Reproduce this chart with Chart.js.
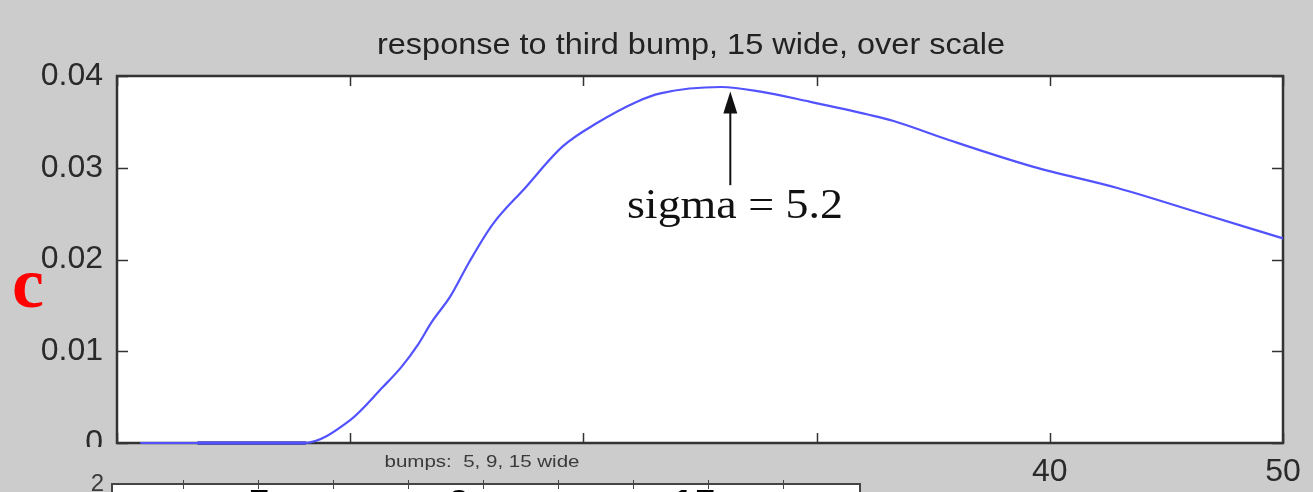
<!DOCTYPE html>
<html>
<head>
<meta charset="utf-8">
<title>response to third bump, 15 wide, over scale</title>
<script src="https://cdn.jsdelivr.net/npm/chart.js@4.4.1/dist/chart.umd.min.js"></script>
<style>
  html, body { margin: 0; padding: 0; background: #cccccc; }
  #wrap { width: 1313px; height: 492px; }
</style>
</head>
<body>
<div id="wrap"><canvas id="chart" width="1313" height="492"></canvas></div>
<script>
// Scale positions (x) and filter response (y) of the third bump
const scalePos = [1, 8, 10, 11.4, 12.2, 12.9, 13.5, 14.3, 15.1, 16.1, 17.5, 19.1, 20.6, 22.3, 23.3, 25.9, 27.6, 29.7, 32.2, 33.3, 35.7, 39.3, 42.9, 46.4, 50];
const response = [0, 0, 0.0025, 0.0061, 0.0083, 0.0107, 0.0132, 0.016, 0.0197, 0.0238, 0.0278, 0.0323, 0.0349, 0.0372, 0.0381, 0.0388, 0.0383, 0.0372, 0.0358, 0.0351, 0.033, 0.0301, 0.0278, 0.0251, 0.0223];

// Overlapping zero run drawn in the darker blue
const zeroRunPos = [3.45, 8.1];
const zeroRunVal = [0, 0];

// Axis ticks
const xTicks = [0, 10, 20, 30, 40, 50];
const yTicks = [0, 0.01, 0.02, 0.03, 0.04];

// Peak annotation
const peakLabel = 'sigma = 5.2';
const peakAt = { x: 26.3, from: 0.0281, to: 0.0383 };

const titleText = 'response to third bump, 15 wide, over scale';
const panelTitle = 'bumps:  5, 9, 15 wide';
const bumpLabels = ['5', '9', '15'];

const toPoints = (xs, ys) => xs.map((x, i) => ({ x, y: ys[i] }));

// draw text stretched horizontally to a given width
function wideText(ctx, text, cx, baseline, width) {
  const w = ctx.measureText(text).width;
  ctx.save();
  ctx.translate(cx - width / 2, baseline);
  ctx.scale(width / w, 1);
  ctx.textAlign = 'left';
  ctx.textBaseline = 'alphabetic';
  ctx.fillText(text, 0, 0);
  ctx.restore();
}

const frame = {
  id: 'frame',
  beforeDraw(chart) {
    const { ctx, chartArea: a } = chart;
    ctx.save();
    ctx.fillStyle = '#cccccc';
    ctx.fillRect(0, 0, chart.width, chart.height);
    ctx.fillStyle = '#ffffff';
    ctx.fillRect(a.left, a.top, a.right - a.left, a.bottom - a.top);
    // title over the axes box
    ctx.fillStyle = '#222222';
    ctx.font = '30px "Liberation Sans", Arial, sans-serif';
    wideText(ctx, titleText, 691, 54, 628);
    ctx.restore();
  },
  beforeDatasetsDraw(chart) {
    const { ctx, chartArea: a, scales } = chart;
    ctx.save();
    ctx.strokeStyle = '#333333';
    ctx.lineWidth = 1.5;
    // inward ticks on all four sides
    ctx.beginPath();
    xTicks.forEach(v => {
      const px = Math.round(scales.x.getPixelForValue(v)) + 0.5;
      ctx.moveTo(px, a.bottom); ctx.lineTo(px, a.bottom - 10);
      ctx.moveTo(px, a.top); ctx.lineTo(px, a.top + 10);
    });
    yTicks.forEach(v => {
      const py = Math.round(scales.y.getPixelForValue(v)) + 0.5;
      ctx.moveTo(a.left, py); ctx.lineTo(a.left + 11, py);
      ctx.moveTo(a.right, py); ctx.lineTo(a.right - 11, py);
    });
    ctx.stroke();
    ctx.lineWidth = 2.5;
    ctx.strokeRect(a.left, a.top, a.right - a.left, a.bottom - a.top);
    ctx.restore();
  },
  afterDraw(chart) {
    const { ctx, scales } = chart;
    ctx.save();

    // arrow pointing at the peak
    const ax = scales.x.getPixelForValue(peakAt.x);
    const y0 = scales.y.getPixelForValue(peakAt.from);
    const y1 = scales.y.getPixelForValue(peakAt.to);
    ctx.strokeStyle = '#111111';
    ctx.fillStyle = '#111111';
    ctx.lineWidth = 2;
    ctx.beginPath();
    ctx.moveTo(ax, y0); ctx.lineTo(ax, y1 + 14);
    ctx.stroke();
    ctx.beginPath();
    ctx.moveTo(ax, y1);
    ctx.lineTo(ax - 7, y1 + 22);
    ctx.lineTo(ax + 7, y1 + 22);
    ctx.closePath();
    ctx.fill();

    // annotation text
    ctx.font = '42px "Liberation Serif", "Times New Roman", serif';
    wideText(ctx, peakLabel, 735, y0 + 33, 216);

    // red variable name at the left
    ctx.fillStyle = '#ff0000';
    ctx.font = 'bold 72px "Liberation Serif", "Times New Roman", serif';
    ctx.textAlign = 'left';
    ctx.textBaseline = 'alphabetic';
    ctx.fillText('c', 12, 307);

    // neighbouring panel overlapping the bottom edge
    ctx.fillStyle = '#cccccc';
    ctx.fillRect(0, 447, 862, 45);
    ctx.fillStyle = '#3a3a3a';
    ctx.font = '16px "Liberation Sans", Arial, sans-serif';
    wideText(ctx, panelTitle, 482, 467, 195);

    ctx.font = '24px "Liberation Sans", Arial, sans-serif';
    ctx.textAlign = 'right';
    ctx.textBaseline = 'alphabetic';
    ctx.fillText('2', 104, 491);

    ctx.fillStyle = '#ffffff';
    ctx.fillRect(112, 484, 748, 10);
    ctx.strokeStyle = '#444444';
    ctx.lineWidth = 2;
    ctx.beginPath();
    ctx.moveTo(112, 495); ctx.lineTo(112, 484); ctx.lineTo(860, 484); ctx.lineTo(860, 495);
    ctx.stroke();
    ctx.lineWidth = 1;
    ctx.beginPath();
    [183, 258, 333, 408, 483, 558, 633, 708, 783].forEach(px => {
      ctx.moveTo(px + 0.5, 480); ctx.lineTo(px + 0.5, 489);
    });
    ctx.stroke();

    ctx.fillStyle = '#000000';
    ctx.font = 'bold 40px "Liberation Sans", Arial, sans-serif';
    ctx.textAlign = 'center';
    ctx.textBaseline = 'top';
    [[bumpLabels[0], 259], [bumpLabels[1], 459], [bumpLabels[2], 694]].forEach(([t, px]) => {
      ctx.fillText(t, px, 487);
    });
    ctx.restore();
  }
};

new Chart(document.getElementById('chart'), {
  type: 'line',
  data: {
    datasets: [
      {
        data: toPoints(scalePos, response),
        borderColor: 'rgb(82, 82, 255)',
        borderWidth: 2.2,
        pointRadius: 0,
        cubicInterpolationMode: 'monotone',
        clip: 6
      },
      {
        data: toPoints(zeroRunPos, zeroRunVal),
        borderColor: '#0000b8',
        borderWidth: 3,
        pointRadius: 0,
        clip: 6
      }
    ]
  },
  options: {
    responsive: false,
    animation: false,
    devicePixelRatio: 1,
    layout: { padding: { left: 0, right: 30, top: 76, bottom: 0 } },
    plugins: {
      legend: { display: false },
      tooltip: { enabled: false },
      title: { display: false }
    },
    scales: {
      x: {
        type: 'linear',
        min: 0, max: 50,
        afterBuildTicks: s => { s.ticks = xTicks.map(v => ({ value: v })); },
        afterFit: s => { s.height = 49; },
        grid: { display: false, drawTicks: false },
        border: { display: false },
        ticks: {
          color: '#2a2a2a',
          padding: 10,
          maxRotation: 0,
          font: { family: '"Liberation Sans", Arial, sans-serif', size: 32 }
        }
      },
      y: {
        type: 'linear',
        min: 0, max: 0.04,
        afterBuildTicks: s => { s.ticks = yTicks.map(v => ({ value: v })); },
        afterFit: s => { s.width = 117; },
        grid: { display: false, drawTicks: false },
        border: { display: false },
        ticks: {
          color: '#2a2a2a',
          padding: 14,
          callback: v => String(+v.toFixed(2)),
          font: { family: '"Liberation Sans", Arial, sans-serif', size: 32 }
        }
      }
    }
  },
  plugins: [frame]
});
</script>
</body>
</html>
